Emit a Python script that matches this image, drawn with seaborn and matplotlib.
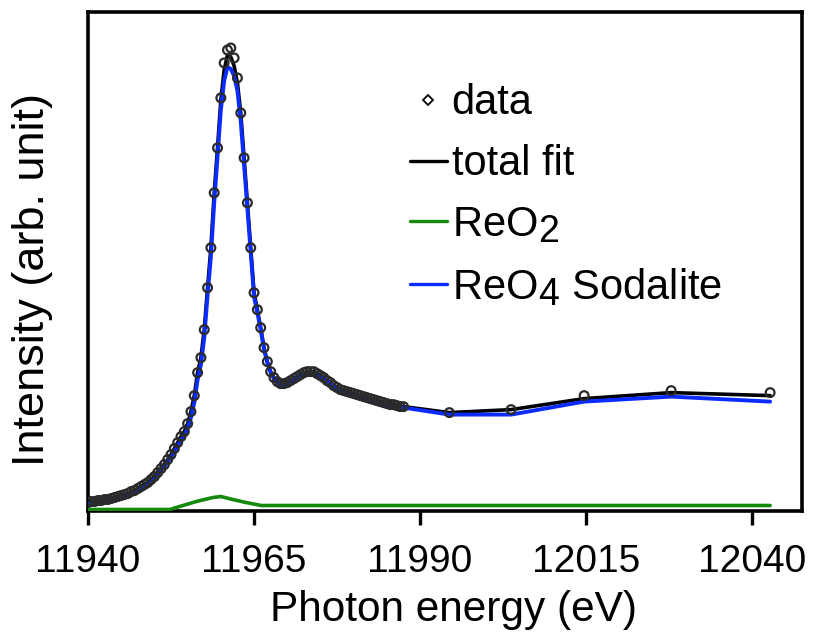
import matplotlib
matplotlib.use("Agg")
import matplotlib.pyplot as plt
from matplotlib.lines import Line2D
import seaborn as sns
import pandas as pd

try:
    import matplotlib._mathtext as _mt
    _mt.SHRINK_FACTOR = 0.9
except Exception:
    pass

# ---------------- data ----------------
energy = [
    11940.0, 11940.5, 11941.0, 11941.5, 11942.0, 11942.5, 11943.0, 11943.5, 11944.0, 11944.5,
    11945.0, 11945.5, 11946.0, 11946.5, 11947.0, 11947.5, 11948.0, 11948.5, 11949.0, 11949.5,
    11950.0, 11950.5, 11951.0, 11951.5, 11952.0, 11952.5, 11953.0, 11953.5, 11954.0, 11954.5,
    11955.0, 11955.5, 11956.0, 11956.5, 11957.0, 11957.5, 11958.0, 11958.5, 11959.0, 11959.5,
    11960.0, 11960.5, 11961.0, 11961.5, 11962.0, 11962.5, 11963.0, 11963.5, 11964.0, 11964.5,
    11965.0, 11965.5, 11966.0, 11966.5, 11967.0, 11967.5, 11968.0, 11968.5, 11969.0, 11969.5,
    11970.0, 11970.5, 11971.0, 11971.5, 11972.0, 11972.5, 11973.0, 11973.5, 11974.0, 11974.5,
    11975.0, 11975.5, 11976.0, 11976.5, 11977.0, 11977.5, 11978.0, 11978.5, 11979.0, 11979.5,
    11980.0, 11980.5, 11981.0, 11981.5, 11982.0, 11982.5, 11983.0, 11983.5, 11984.0, 11984.5,
    11985.0, 11985.5, 11986.0, 11986.5, 11987.0, 11987.5,
    11994.4, 12003.7, 12014.7, 12027.8, 12042.7,
]

data = [
    0.05, 0.06, 0.06, 0.07, 0.07, 0.08, 0.08, 0.09, 0.10, 0.11,
    0.12, 0.13, 0.14, 0.16, 0.17, 0.19, 0.21, 0.23, 0.25, 0.28,
    0.31, 0.35, 0.39, 0.43, 0.48, 0.53, 0.59, 0.65, 0.71, 0.76,
    0.84, 0.96, 1.12, 1.35, 1.50, 1.78, 2.20, 2.60, 3.15, 3.60,
    4.10, 4.45, 4.58, 4.60, 4.50, 4.30, 3.95, 3.50, 3.05, 2.60,
    2.15, 1.98, 1.80, 1.60, 1.46, 1.36, 1.30, 1.26, 1.24, 1.24,
    1.25, 1.27, 1.29, 1.31, 1.33, 1.35, 1.36, 1.36, 1.36, 1.34,
    1.32, 1.30, 1.27, 1.25, 1.22, 1.20, 1.18, 1.17, 1.16, 1.15,
    1.14, 1.13, 1.12, 1.11, 1.10, 1.09, 1.08, 1.07, 1.06, 1.05,
    1.04, 1.03, 1.03, 1.02, 1.01, 1.01,
    0.95, 0.98, 1.12, 1.17, 1.15,
]

total_fit = [
    0.05, 0.06, 0.06, 0.07, 0.07, 0.08, 0.08, 0.09, 0.10, 0.11,
    0.12, 0.13, 0.14, 0.16, 0.17, 0.19, 0.21, 0.23, 0.25, 0.28,
    0.31, 0.35, 0.39, 0.43, 0.48, 0.53, 0.59, 0.65, 0.71, 0.76,
    0.84, 0.96, 1.12, 1.35, 1.50, 1.78, 2.20, 2.60, 3.15, 3.60,
    4.08, 4.38, 4.53, 4.51, 4.42, 4.25, 3.95, 3.50, 3.05, 2.60,
    2.15, 1.98, 1.80, 1.60, 1.46, 1.36, 1.30, 1.26, 1.24, 1.24,
    1.25, 1.27, 1.29, 1.31, 1.33, 1.35, 1.36, 1.36, 1.36, 1.34,
    1.32, 1.30, 1.27, 1.25, 1.22, 1.20, 1.18, 1.17, 1.16, 1.15,
    1.14, 1.13, 1.12, 1.11, 1.10, 1.09, 1.08, 1.07, 1.06, 1.05,
    1.04, 1.03, 1.03, 1.02, 1.01, 1.01,
    0.95, 0.98, 1.09, 1.15, 1.12,
]

reo4_sodalite = [
    0.04, 0.05, 0.05, 0.06, 0.06, 0.07, 0.07, 0.08, 0.09, 0.10,
    0.11, 0.12, 0.13, 0.14, 0.15, 0.17, 0.19, 0.21, 0.23, 0.26,
    0.29, 0.33, 0.37, 0.41, 0.46, 0.50, 0.56, 0.62, 0.68, 0.72,
    0.79, 0.90, 1.05, 1.28, 1.43, 1.70, 2.12, 2.51, 3.05, 3.51,
    3.98, 4.27, 4.41, 4.39, 4.32, 4.17, 3.86, 3.43, 2.99, 2.55,
    2.11, 1.95, 1.78, 1.58, 1.45, 1.35, 1.29, 1.25, 1.23, 1.23,
    1.24, 1.26, 1.28, 1.30, 1.32, 1.34, 1.35, 1.35, 1.35, 1.33,
    1.31, 1.29, 1.26, 1.24, 1.21, 1.19, 1.17, 1.16, 1.15, 1.14,
    1.13, 1.12, 1.11, 1.10, 1.09, 1.08, 1.07, 1.06, 1.05, 1.04,
    1.03, 1.02, 1.02, 1.01, 1.00, 1.00,
    0.93, 0.93, 1.06, 1.11, 1.06,
]

reo2_energy = [11940.0, 11952.3, 11953.8, 11956.3, 11958.8, 11960.0, 11961.8, 11963.8, 11966.1, 12042.7]
reo2 = [-0.02, -0.02, 0.01, 0.06, 0.10, 0.11, 0.08, 0.05, 0.02, 0.02]

x_ticks = [11940, 11965, 11990, 12015, 12040]

df = pd.DataFrame({"energy": energy, "data": data, "total": total_fit, "reo4": reo4_sodalite})
df2 = pd.DataFrame({"energy": reo2_energy, "reo2": reo2})

# ---------------- style ----------------
sns.set_style("ticks")
plt.rcParams["font.family"] = ["Liberation Sans", "DejaVu Sans"]
plt.rcParams["mathtext.fontset"] = "custom"
plt.rcParams["mathtext.rm"] = "Liberation Sans"
plt.rcParams["text.color"] = "black"
plt.rcParams["axes.labelcolor"] = "black"
plt.rcParams["xtick.color"] = "black"
plt.rcParams["xtick.labelcolor"] = "black"

BLACK = "#000000"
GREEN = "#16890f"
BLUE = "#0b2cff"

fig = plt.figure(figsize=(8.19, 6.34), dpi=100)
ax = fig.add_axes([88 / 819, 1 - 511 / 634, (802 - 88) / 819, (511 - 12) / 634])

sns.lineplot(data=df, x="energy", y="total", ax=ax, color=BLACK, lw=2.6,
             sort=False, estimator=None, zorder=2)
sns.lineplot(data=df2, x="energy", y="reo2", ax=ax, color=GREEN, lw=2.6,
             sort=False, estimator=None, zorder=3)
sns.lineplot(data=df, x="energy", y="reo4", ax=ax, color=BLUE, lw=2.8,
             sort=False, estimator=None, zorder=3)
sns.scatterplot(data=df, x="energy", y="data", ax=ax, marker="o", s=40,
                facecolor="none", edgecolor="#2a2a2a", linewidth=1.6, zorder=4)

ax.set_xlim(11940, 12047.5)
ax.set_ylim(-0.035, 4.96)
ax.set_xticks(x_ticks)
ax.set_xticklabels([str(t) for t in x_ticks])
ax.set_yticks([])
ax.tick_params(axis="x", direction="out", length=10, width=2.4, labelsize=28, pad=14,
               color="black", labelcolor="black")
for s in ax.spines.values():
    s.set_visible(True)
    s.set_linewidth(2.6)
    s.set_color("black")

ax.set_xlabel("Photon energy (eV)", fontsize=30.5, color="black")
ax.xaxis.set_label_coords((453 - 88) / 714, 1 - (610 - 12) / 499)
ax.xaxis.label.set_va("center")
ax.set_ylabel("Intensity (arb. unit)", fontsize=32.5, color="black")
ax.yaxis.set_label_coords((33 - 88) / 714, 1 - (280 - 12) / 499)
ax.yaxis.label.set_va("center")

handles = [
    Line2D([], [], ls="none", marker="D", ms=5, mfc="none", mec="black", mew=1.3),
    Line2D([], [], color=BLACK, lw=2.4),
    Line2D([], [], color=GREEN, lw=2.4),
    Line2D([], [], color=BLUE, lw=2.4),
]
labels = ["data", "total fit", r"ReO$_\mathregular{2}$", r"ReO$_\mathregular{4}$ Sodalite"]
leg = ax.legend(handles, labels, loc="upper left", bbox_to_anchor=(0.451, 0.857), frameon=False,
                fontsize=30, handlelength=0.88, handletextpad=0.12, labelspacing=0.5,
                borderpad=0, borderaxespad=0)
for t in leg.get_texts():
    t.set_color("black")

fig.savefig("out.png", dpi=100)
